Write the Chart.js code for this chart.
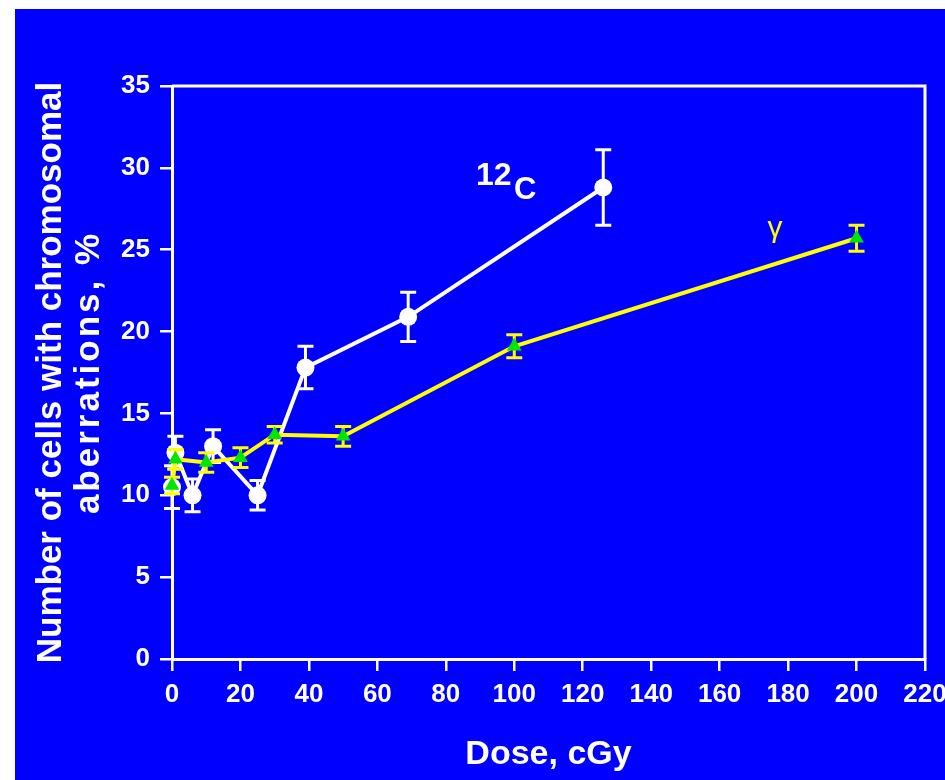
<!DOCTYPE html>
<html>
<head>
<meta charset="utf-8">
<script src="https://cdn.jsdelivr.net/npm/chart.js@4.4.1/dist/chart.umd.min.js"></script>
<style>
html,body{margin:0;padding:0;background:#ffffff;}
#wrap{width:945px;height:780px;position:relative;}
</style>
</head>
<body>
<div id="wrap"><canvas id="c" width="945" height="780"></canvas></div>
<script>
// ---- data ----
const carbonDose = [0, 1, 6, 12, 25, 39, 69, 126];
const carbonPct  = [10.5, 12.6, 10.0, 13.0, 10.0, 17.8, 20.9, 28.8];
const carbonErr  = [1.3, 1.0, 1.0, 1.0, 0.9, 1.3, 1.5, 2.3];

const gammaDose = [0, 1, 10, 20, 30, 50, 100, 200];
const gammaPct  = [10.6, 12.2, 12.0, 12.3, 13.7, 13.6, 19.1, 25.7];
const gammaErr  = [0.5, 0.6, 0.6, 0.6, 0.5, 0.6, 0.7, 0.8];

const xTickValues = [0, 20, 40, 60, 80, 100, 120, 140, 160, 180, 200, 220];
const yTickValues = [0, 5, 10, 15, 20, 25, 30, 35];

const xTitle = 'Dose, cGy';
const yTitle = ['Number of cells with chromosomal', 'aberrations, %'];
const carbonLabel = { main: '12', sub: 'C', x: 88.8, y: 28.95, subX: 99.9, subY: 28.1 };
const gammaLabel = { text: 'γ', x: 174, y: 25.8 };

const FONT = "'Liberation Sans', Arial, Helvetica, sans-serif";
const NARROW = "'Liberation Sans Narrow', 'Arial Narrow', 'Liberation Sans', Arial, sans-serif";

const toPts = (xs, ys) => xs.map((x, i) => ({ x: x, y: ys[i] }));

const background = {
  id: 'background',
  beforeDraw(chart) {
    const ctx = chart.ctx;
    ctx.save();
    ctx.fillStyle = '#ffffff';
    ctx.fillRect(0, 0, chart.width, chart.height);
    ctx.fillStyle = '#0000ff';
    ctx.fillRect(15, 9, chart.width - 15, chart.height - 9);
    ctx.restore();
  }
};

const frame = {
  id: 'frame',
  beforeDatasetsDraw(chart) {
    const a = chart.chartArea, ctx = chart.ctx;
    ctx.save();
    ctx.strokeStyle = '#ffffff';
    ctx.lineWidth = 3;
    ctx.beginPath();
    ctx.moveTo(a.left, a.top);
    ctx.lineTo(a.right, a.top);
    ctx.lineTo(a.right, a.bottom);
    ctx.stroke();
    ctx.restore();
  }
};

// two-line rotated y-axis title (second line slightly letter-spaced as in the reference)
const yAxisTitle = {
  id: 'yAxisTitle',
  afterDraw(chart) {
    const a = chart.chartArea, ctx = chart.ctx, ys = chart.scales.y;
    const cy = (a.top + a.bottom) / 2;
    const x1 = ys.left + 36;
    const lineGap = 38;
    ctx.save();
    ctx.fillStyle = '#ffffff';
    ctx.font = 'bold 35px ' + FONT;
    ctx.textAlign = 'center';
    ctx.textBaseline = 'middle';
    ctx.translate(x1, cy);
    ctx.rotate(-Math.PI / 2);
    ctx.fillText(yTitle[0], 0, 0);
    if ('letterSpacing' in ctx) ctx.letterSpacing = '3px';
    ctx.fillText(yTitle[1], 0, lineGap);
    ctx.restore();
  }
};

const errorBars = {
  id: 'errorBars',
  beforeDatasetDraw(chart, args) {
    const ds = chart.data.datasets[args.index];
    if (!ds.errors) return;
    const xs = chart.scales.x, ys = chart.scales.y, ctx = chart.ctx;
    ctx.save();
    ctx.strokeStyle = ds.errorColor;
    ctx.lineWidth = 3;
    ds.data.forEach((p, i) => {
      const e = ds.errors[i];
      const px = xs.getPixelForValue(p.x);
      const top = ys.getPixelForValue(p.y + e);
      const bot = ys.getPixelForValue(p.y - e);
      ctx.beginPath();
      ctx.moveTo(px, top); ctx.lineTo(px, bot);
      ctx.moveTo(px - 8, top); ctx.lineTo(px + 8, top);
      ctx.moveTo(px - 8, bot); ctx.lineTo(px + 8, bot);
      ctx.stroke();
    });
    ctx.restore();
  }
};

const seriesLabels = {
  id: 'seriesLabels',
  afterDatasetsDraw(chart) {
    const xs = chart.scales.x, ys = chart.scales.y, ctx = chart.ctx;
    ctx.save();
    ctx.textBaseline = 'alphabetic';
    ctx.textAlign = 'left';
    ctx.fillStyle = '#ffffff';
    ctx.font = 'bold 32px ' + FONT;
    ctx.fillText(carbonLabel.main, xs.getPixelForValue(carbonLabel.x), ys.getPixelForValue(carbonLabel.y));
    ctx.font = 'bold 31px ' + FONT;
    ctx.fillText(carbonLabel.sub, xs.getPixelForValue(carbonLabel.subX), ys.getPixelForValue(carbonLabel.subY));
    ctx.fillStyle = '#ffff00';
    ctx.font = '30px ' + FONT;
    ctx.fillText(gammaLabel.text, xs.getPixelForValue(gammaLabel.x), ys.getPixelForValue(gammaLabel.y));
    ctx.restore();
  }
};

new Chart(document.getElementById('c'), {
  type: 'line',
  data: {
    datasets: [
      {
        label: '12C',
        data: toPts(carbonDose, carbonPct),
        errors: carbonErr,
        errorColor: '#ffffff',
        borderColor: '#ffffff',
        borderWidth: 4,
        pointStyle: 'circle',
        pointRadius: 9,
        pointBackgroundColor: '#ffffff',
        pointBorderColor: '#ffffff',
        pointBorderWidth: 0,
        tension: 0,
        clip: false,
        order: 2
      },
      {
        label: 'gamma',
        data: toPts(gammaDose, gammaPct),
        errors: gammaErr,
        errorColor: '#ffff00',
        borderColor: '#ffff00',
        borderWidth: 4,
        pointStyle: 'triangle',
        pointRadius: 8.5,
        pointBackgroundColor: '#00e600',
        pointBorderColor: '#00e600',
        pointBorderWidth: 0,
        tension: 0,
        clip: false,
        order: 1
      }
    ]
  },
  options: {
    responsive: false,
    animation: false,
    devicePixelRatio: 1,
    layout: { padding: { left: 15, top: 86, right: 20, bottom: 0 } },
    plugins: { legend: { display: false }, tooltip: { enabled: false } },
    scales: {
      x: {
        type: 'linear',
        min: 0, max: 220,
        afterBuildTicks(s) { s.ticks = xTickValues.map(v => ({ value: v })); },
        afterFit(s) { s.height = 121; s.paddingLeft = 0; s.paddingRight = 0; },
        grid: { drawOnChartArea: false, drawTicks: true, tickLength: 12, color: '#ffffff', lineWidth: 2.5 },
        border: { display: true, color: '#ffffff', width: 3 },
        ticks: { color: '#ffffff', font: { family: NARROW, size: 26, weight: 'bold' }, padding: 8, maxRotation: 0, autoSkip: false },
        title: { display: true, text: xTitle, color: '#ffffff', font: { family: FONT, size: 34, weight: 'bold', lineHeight: 1.1 }, padding: { top: 0, bottom: 7 } }
      },
      y: {
        type: 'linear',
        min: 0, max: 35,
        afterBuildTicks(s) { s.ticks = yTickValues.map(v => ({ value: v })); },
        afterFit(s) { s.width = 157; s.paddingTop = 0; s.paddingBottom = 0; },
        grid: { drawOnChartArea: false, drawTicks: true, tickLength: 12, color: '#ffffff', lineWidth: 2.5 },
        border: { display: true, color: '#ffffff', width: 3 },
        ticks: { color: '#ffffff', font: { family: FONT, size: 26, weight: 'bold' }, padding: 10 },
        title: { display: false, text: yTitle }
      }
    }
  },
  plugins: [background, frame, errorBars, seriesLabels, yAxisTitle]
});
</script>
</body>
</html>
